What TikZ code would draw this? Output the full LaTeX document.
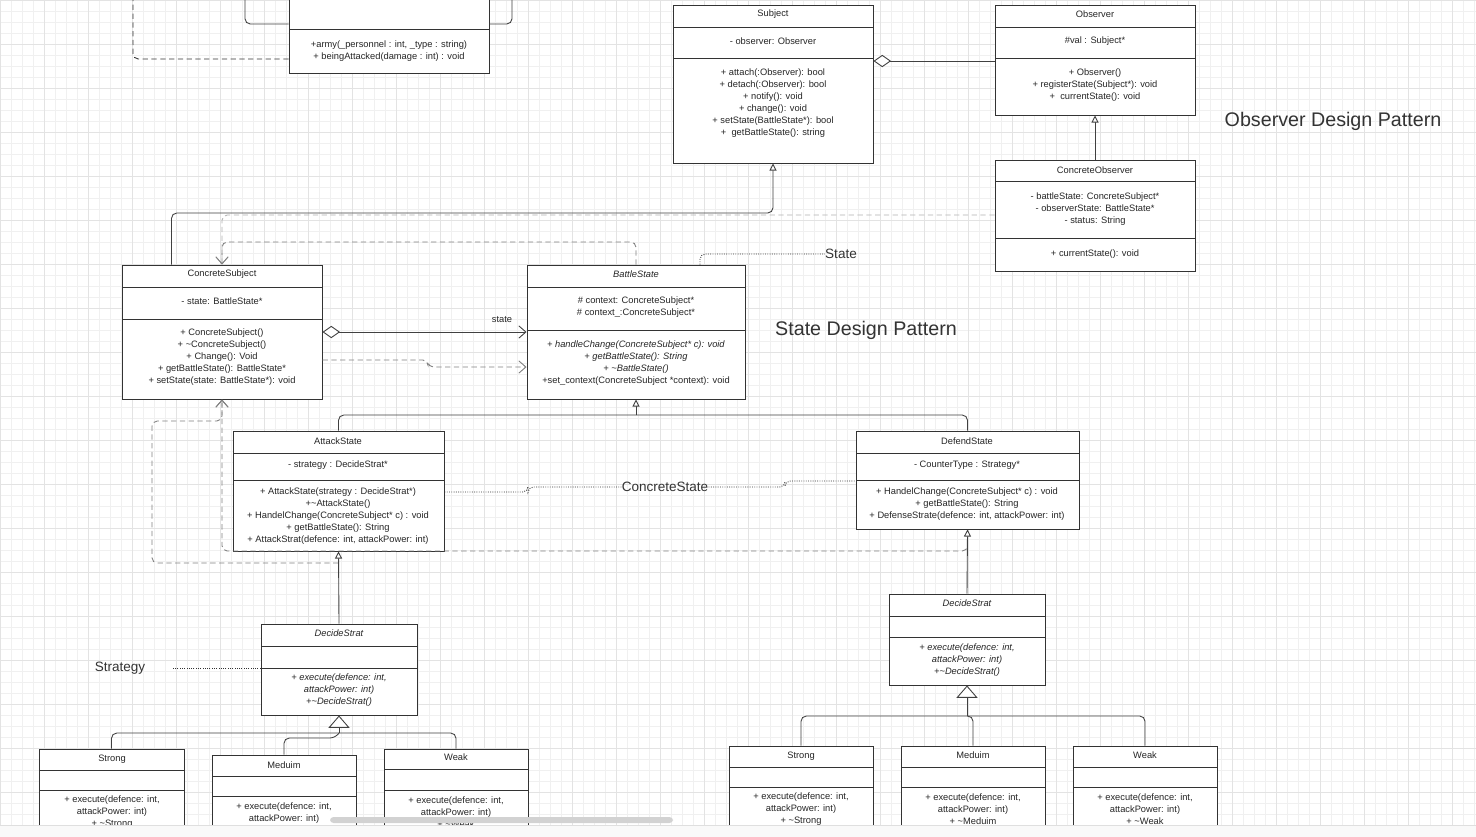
\documentclass[tikz,border=0pt]{standalone}
\usepackage{fontspec}
\setmainfont{Liberation Sans}
\usetikzlibrary{arrows.meta,fit}
\begin{document}
\begin{tikzpicture}[x=0.02cm,y=-0.02cm,
 cls/.style={draw=black!80,line width=0.55pt,fill=white,inner sep=0pt},
 sep/.style={draw=black!80,line width=0.55pt},
 txt/.style={font=\fontsize{5.3}{6.83}\selectfont,align=center,text=black!85,inner sep=0pt},
 itx/.style={txt,font=\fontsize{5.3}{6.83}\selectfont\itshape},
 big/.style={font=\fontsize{11.2}{13}\selectfont,text=black!80,inner sep=0pt},
 mid/.style={font=\fontsize{7.7}{9}\selectfont,text=black!80,inner sep=0pt},
 conn/.style={draw=black!75,line width=0.5pt,rounded corners=3pt},
 dline/.style={conn,draw=gray,dash pattern=on 3pt off 2pt},
 dep/.style={dline,-{Straight Barb[length=4pt,width=7pt]}},
 note/.style={conn,draw=black!80,dash pattern=on 0.5pt off 0.8pt},
 gen/.style={conn,-{Triangle[open,length=4pt,width=4pt,fill=white]}},
 biggen/.style={conn,-{Triangle[open,length=7pt,width=12pt,fill=white]}},
 agg/.style={conn,{Diamond[open,length=10pt,width=7pt,fill=white]}-}
]
 \useasboundingbox (0,0) rectangle (1476,836);
 \clip (0,0) rectangle (1476,836);
 \fill[white] (0,0) rectangle (1476,836);
 \draw[step=0.22cm,gray!12,very thin] (0,0) grid (1476,836);
 \draw[step=0.88cm,gray!22,very thin] (0,0) grid (1476,836);

 \node[cls,fit={(289,-5) (489,73)}] (army) {};
 \node[cls,fit={(673,5) (873,163)}] (subj) {};
 \node[cls,fit={(995,5) (1195,115)}] (obs) {};
 \node[cls,fit={(995,160) (1195,271)}] (cobs) {};
 \node[cls,fit={(122,265) (322,399)}] (csub) {};
 \node[cls,fit={(527,265) (745,399)}] (bst) {};
 \node[cls,fit={(233,431) (444,551)}] (att) {};
 \node[cls,fit={(856,431) (1079,529)}] (def) {};
 \node[cls,fit={(261,624) (417,715)}] (ds1) {};
 \node[cls,fit={(889,594) (1045,685)}] (ds2) {};
 \node[cls,fit={(39,749) (184,845)}] (st1) {};
 \node[cls,fit={(212,755) (356,845)}] (md1) {};
 \node[cls,fit={(384,749) (528,845)}] (wk1) {};
 \node[cls,fit={(729,746) (873,845)}] (st2) {};
 \node[cls,fit={(901,746) (1045,845)}] (md2) {};
 \node[cls,fit={(1073,746) (1217,845)}] (wk2) {};

 \draw[sep] (289,29) -- (489,29);
 \draw[sep] (673,27) -- (873,27);
 \draw[sep] (673,58) -- (873,58);
 \draw[sep] (995,27) -- (1195,27);
 \draw[sep] (995,58) -- (1195,58);
 \draw[sep] (995,181) -- (1195,181);
 \draw[sep] (995,238) -- (1195,238);
 \draw[sep] (122,287) -- (322,287);
 \draw[sep] (122,319) -- (322,319);
 \draw[sep] (527,287) -- (745,287);
 \draw[sep] (527,330) -- (745,330);
 \draw[sep] (233,453) -- (444,453);
 \draw[sep] (233,480) -- (444,480);
 \draw[sep] (856,453) -- (1079,453);
 \draw[sep] (856,480) -- (1079,480);
 \draw[sep] (261,646) -- (417,646);
 \draw[sep] (261,668) -- (417,668);
 \draw[sep] (889,616) -- (1045,616);
 \draw[sep] (889,637) -- (1045,637);
 \draw[sep] (39,770) -- (184,770);
 \draw[sep] (39,790) -- (184,790);
 \draw[sep] (212,776) -- (356,776);
 \draw[sep] (212,796) -- (356,796);
 \draw[sep] (384,769) -- (528,769);
 \draw[sep] (384,790) -- (528,790);
 \draw[sep] (729,767) -- (873,767);
 \draw[sep] (729,787) -- (873,787);
 \draw[sep] (901,767) -- (1045,767);
 \draw[sep] (901,787) -- (1045,787);
 \draw[sep] (1073,767) -- (1217,767);
 \draw[sep] (1073,787) -- (1217,787);

 \node[txt] (armyM) at (389,51) {+army(\_personnel : int, \_type : string)\\+ beingAttacked(damage : int) : void};
 \node[txt] (subjT) at (773,14) {Subject};
 \node[txt] (subjA) at (773,41) {- observer: Observer};
 \node[txt] (subjM) at (773,103) {+ attach(:Observer): bool\\+ detach(:Observer): bool\\+ notify(): void\\+ change(): void\\+ setState(BattleState*): bool\\+ \ getBattleState(): string};
 \node[txt] (obsT) at (1095,14) {Observer};
 \node[txt] (obsA) at (1095,41) {\#val : Subject*};
 \node[txt] (obsM) at (1095,85) {+ Observer()\\+ registerState(Subject*): void\\+ \ currentState(): void};
 \node[txt] (cobsT) at (1095,170) {ConcreteObserver};
 \node[txt] (cobsA) at (1095,209) {- battleState: ConcreteSubject*\\- observerState: BattleState*\\- status: String};
 \node[txt] (cobsM) at (1095,254) {+ currentState(): void};
 \node[txt] (csubT) at (222,274) {ConcreteSubject};
 \node[txt] (csubA) at (222,301) {- state: BattleState*};
 \node[txt] (csubM) at (222,357) {+ ConcreteSubject()\\+ \textasciitilde ConcreteSubject()\\+ Change(): Void\\+ getBattleState(): BattleState*\\+ setState(state: BattleState*): void};
 \node[itx] (bstT) at (636,274) {BattleState};
 \node[txt] (bstA) at (636,307) {\# context: ConcreteSubject*\\\# context\_:ConcreteSubject*};
 \node[txt] (bstM) at (636,363) {\textit{+ handleChange(ConcreteSubject* c): void}\\\textit{+ getBattleState(): String}\\\textit{+ \textasciitilde BattleState()}\\+set\_context(ConcreteSubject *context): void};
 \node[txt] (attT) at (338,441) {AttackState};
 \node[txt] (attA) at (338,465) {- strategy : DecideStrat*};
 \node[txt] (attM) at (338,516) {+ AttackState(strategy : DecideStrat*)\\+\textasciitilde AttackState()\\+ HandelChange(ConcreteSubject* c) : void\\+ getBattleState(): String\\+ AttackStrat(defence: int, attackPower: int)};
 \node[txt] (defT) at (967,441) {DefendState};
 \node[txt] (defA) at (967,465) {- CounterType : Strategy*};
 \node[txt] (defM) at (967,504) {+ HandelChange(ConcreteSubject* c) : void\\+ getBattleState(): String\\+ DefenseStrate(defence: int, attackPower: int)};
 \node[itx] (ds1T) at (339,633) {DecideStrat};
 \node[itx] (ds1M) at (339,690) {+ execute(defence: int,\\attackPower: int)\\+\textasciitilde DecideStrat()};
 \node[itx] (ds2T) at (967,603) {DecideStrat};
 \node[itx] (ds2M) at (967,660) {+ execute(defence: int,\\attackPower: int)\\+\textasciitilde DecideStrat()};
 \node[txt] (st1T) at (112,759) {Strong};
 \node[txt] (st1M) at (112,812) {+ execute(defence: int,\\attackPower: int)\\+ \textasciitilde Strong};
 \node[txt] (md1T) at (284,765) {Meduim};
 \node[txt] (md1M) at (284,818) {+ execute(defence: int,\\attackPower: int)\\+ \textasciitilde Meduim};
 \node[txt] (wk1T) at (456,757) {Weak};
 \node[txt] (wk1M) at (456,812) {+ execute(defence: int,\\attackPower: int)\\+ \textasciitilde Weak};
 \node[txt] (st2T) at (801,756) {Strong};
 \node[txt] (st2M) at (801,809) {+ execute(defence: int,\\attackPower: int)\\+ \textasciitilde Strong};
 \node[txt] (md2T) at (973,755) {Meduim};
 \node[txt] (md2M) at (973,809) {+ execute(defence: int,\\attackPower: int)\\+ \textasciitilde Meduim};
 \node[txt] (wk2T) at (1145,755) {Weak};
 \node[txt] (wk2M) at (1145,809) {+ execute(defence: int,\\attackPower: int)\\+ \textasciitilde Weak};

 \node[big] (obsL) at (1333,121) {Observer Design Pattern};
 \node[big] (stL) at (866,330) {State Design Pattern};
 \node[mid] (stateL) at (841,254) {State};
 \node[mid] (csL) at (665,487) {ConcreteState};
 \node[mid] (stratL) at (120,668) {Strategy};
 \node[txt] (assocL) at (502,320) {state};

 \draw[conn] (army.west |- 0,24) -| (245,-5);
 \draw[conn] (army.east |- 0,24) -| (512,-5);
 \draw[dline,draw=black!80] (army.west |- 0,59) -| (133,-5);
 \draw[agg] (subj.east |- 0,61) -- (obs.west |- 0,61);
 \draw[gen] (cobs.north) -- (obs.south);
 \draw[gen] ([xshift=1cm]csub.north west) |- (subj.south |- 0,213) -- (subj.south);
 \draw[dep,draw=gray!60] (cobs.west |- 0,215) -| (csub.north);
 \draw[dep] (bst.north) |- (csub.north |- 0,242) -- (csub.north);
 \draw[note] (bst.north -| 700,0) |- (stateL.west);
 \draw[conn,{Diamond[open,length=10pt,width=7pt,fill=white]}-{Straight Barb[length=4pt,width=7pt]}] (csub.east |- 0,332) -- (bst.west |- 0,332);
 \draw[dep] (csub.east |- 0,360) -| (428,367) -- (bst.west |- 0,367);
 \draw[conn] (att.north) |- (bst.south |- 0,415);
 \draw[conn] (def.north) |- (bst.south |- 0,415);
 \draw[gen] (bst.south |- 0,415) -- (bst.south);
 \draw[note] (att.east |- 0,492) -| (528,487) -- (csL.west);
 \draw[note] (csL.east) -- (785,487) |- (def.west |- 0,481);
 \draw[dep] (def.south |- 0,540) |- (csub.south |- 0,551) -- (csub.south);
 \draw[dep] (att.south |- 0,563) -| (152,421) -| (csub.south);
 \draw[gen] (ds1.north) -- (att.south);
 \draw[gen] (ds2.north) -- (def.south);
 \draw[note] (ds1.west |- 0,668) -- (173,668);
 \draw[conn] (st1.north) |- (wk1.north |- 0,733) -- (wk1.north);
 \draw[conn] (md1.north) |- (335,738) -- (ds1.south |- 0,733);
 \draw[biggen] (ds1.south |- 0,733) -- (ds1.south);
 \draw[conn] (st2.north) |- (wk2.north |- 0,716) -- (wk2.north);
 \draw[conn] (md2.north) |- (ds2.south |- 0,716);
 \draw[biggen] (ds2.south |- 0,716) -- (ds2.south);

 \fill[gray!35,rounded corners=2pt] (330,817) rectangle (673,823);
 \fill[gray!5] (0,825) rectangle (1476,860);
 \draw[gray!25] (0,825) -- (1476,825);
\end{tikzpicture}
\end{document}
